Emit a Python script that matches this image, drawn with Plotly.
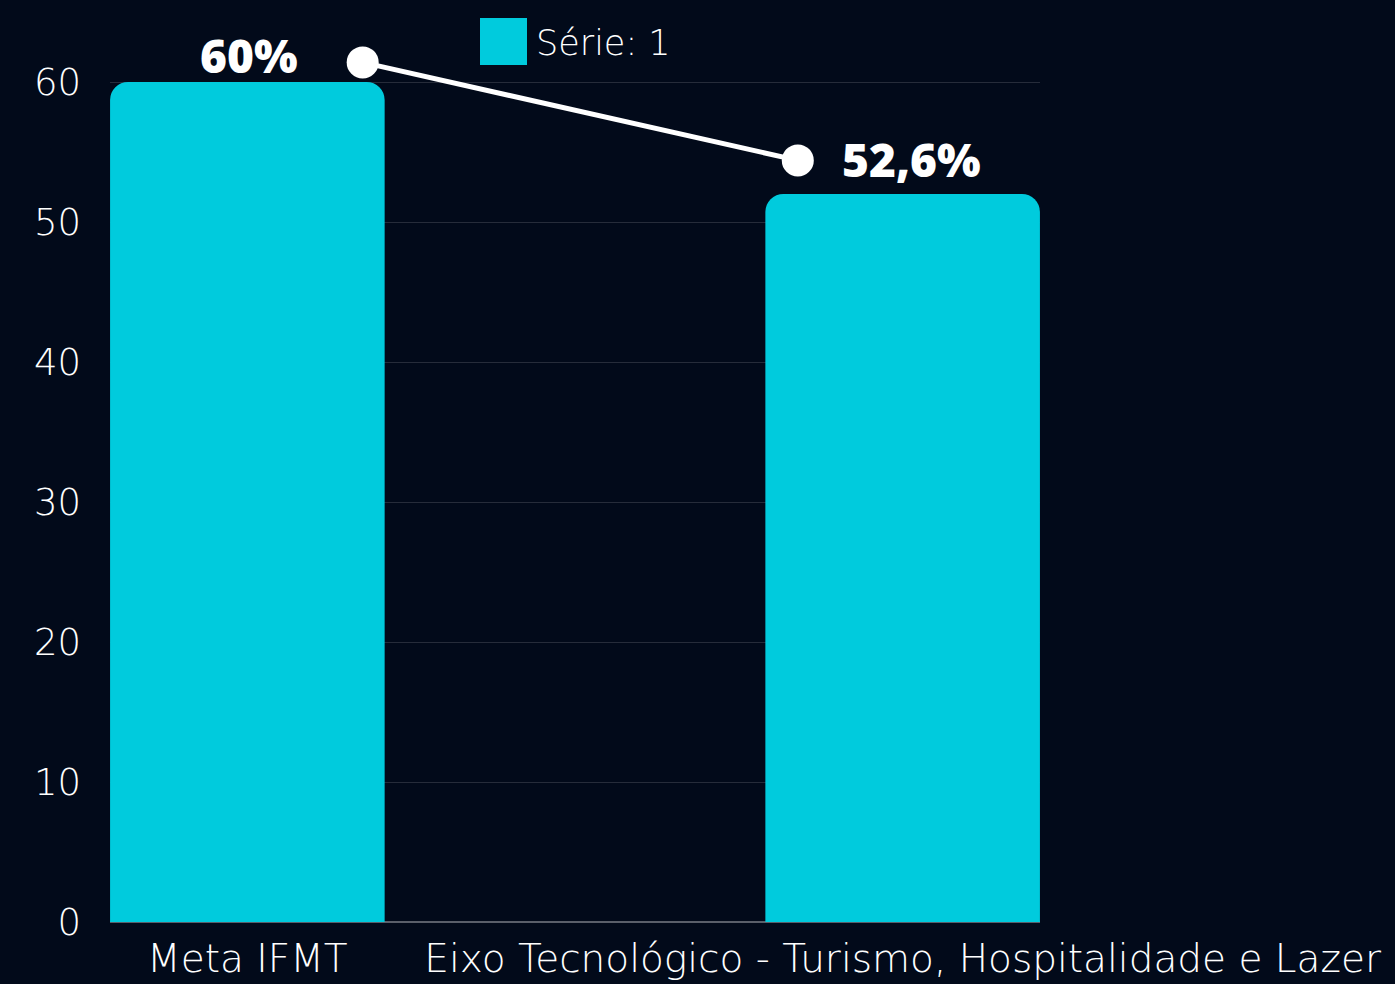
import plotly.graph_objects as go

categories = ["Meta IFMT", "Eixo Tecnológico - Turismo, Hospitalidade e Lazer"]
cat_pos = [0, 1]
bar_values = [60, 52]
bar_labels = ["60%", "52,6%"]
line_x = [0.176, 0.840]
line_y = [61.4, 54.4]
y_ticks = [0, 10, 20, 30, 40, 50, 60]
series_name = "Série: 1"

BG = "#020A1A"
CYAN = "#00CBDD"
FONT = "DejaVu Sans"
Y_MAX = 62.5
PX_PER_UNIT = 14.0
PLOT_TOP = 922 - Y_MAX * PX_PER_UNIT  # 47
PLOT_H = 922 - PLOT_TOP
LABEL_SHIFTS = [(2, -6), (9, 2)]


def py(pix):
    return (922 - pix) / PLOT_H


def px(pix):
    return (pix - 110) / 930


fig = go.Figure()
fig.add_trace(go.Bar(
    x=cat_pos, y=bar_values, width=0.419, marker=dict(color=CYAN, line=dict(width=0)),
    name=series_name, showlegend=False,
))
fig.add_trace(go.Scatter(
    x=line_x, y=line_y, mode="lines+markers", cliponaxis=False,
    line=dict(color="white", width=5), marker=dict(color="white", size=32),
    showlegend=False,
))

for xv, yv, lab, (dx, dy) in zip(cat_pos, bar_values, bar_labels, LABEL_SHIFTS):
    fig.add_annotation(x=xv, y=yv, xref="x", yref="y", text=lab, showarrow=False,
                       xanchor="center", yanchor="bottom", xshift=dx, yshift=dy,
                       font=dict(family="Open Sans", size=46, color="white", weight=800))

# manual legend
fig.add_shape(type="rect", xref="paper", yref="paper",
              x0=px(480), x1=px(527), y0=py(65), y1=py(18),
              fillcolor=CYAN, line=dict(width=0))
fig.add_annotation(xref="paper", yref="paper", x=px(534), y=py(43),
                   xanchor="left", yanchor="middle", text=series_name, showarrow=False,
                   font=dict(family=FONT, size=35, color="white", weight=200))

fig.update_layout(
    width=1395, height=984,
    paper_bgcolor=BG, plot_bgcolor=BG,
    margin=dict(l=110, r=355, t=PLOT_TOP, b=62, pad=0, autoexpand=False),
    barcornerradius=18,
    font=dict(family=FONT, color="white", weight=200),
    xaxis=dict(range=[-0.2096, 1.2096], tickvals=cat_pos, ticktext=categories,
               showgrid=False, zeroline=False, showline=False, ticks="",
               ticklabelstandoff=10, automargin=False,
               tickfont=dict(size=39, color="white", family=FONT, weight=200)),
    yaxis=dict(range=[0, Y_MAX], tickvals=y_ticks, showgrid=True, gridcolor="#262c3a", gridwidth=1,
               zeroline=True, zerolinecolor="#5a5f6a", zerolinewidth=2, showline=False, ticks="",
               ticklabelstandoff=28, automargin=False,
               tickfont=dict(size=37, color="white", family=FONT, weight=200)),
)

fig.write_html("out.html", config={"displayModeBar": False},
               post_script="document.body.style.margin='0';document.body.style.background='#020A1A';")
